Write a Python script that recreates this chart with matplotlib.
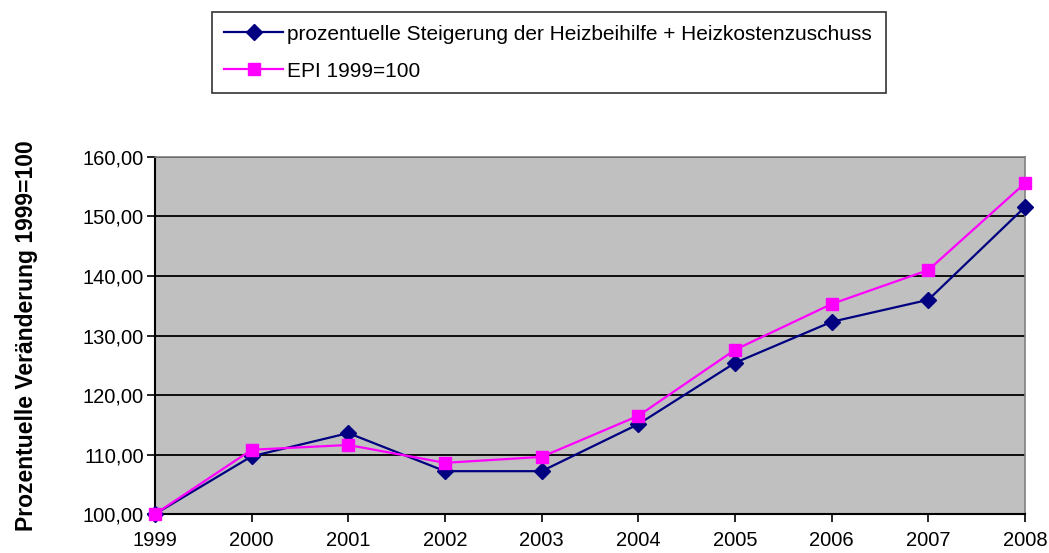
import matplotlib
matplotlib.use("Agg")
import matplotlib.pyplot as plt
import numpy as np

plt.rcParams['font.family'] = ['Liberation Sans', 'DejaVu Sans']

years = ['1999', '2000', '2001', '2002', '2003', '2004', '2005', '2006', '2007', '2008']
heizbeihilfe = [100.0, 109.7, 113.6, 107.2, 107.2, 115.1, 125.4, 132.3, 136.0, 151.6]
epi = [100.0, 110.8, 111.6, 108.6, 109.6, 116.5, 127.6, 135.3, 141.0, 155.6]
y_ticks = [100, 110, 120, 130, 140, 150, 160]

fig = plt.figure(figsize=(10.49, 5.53), dpi=100)
ax = fig.add_axes([0.1478, 0.0705, 0.9771 - 0.1478, 0.7161 - 0.0705])
ax.set_facecolor('#c0c0c0')

x = np.arange(len(years))
l1, = ax.plot(x, heizbeihilfe, color='#000080', lw=1.6, marker='D', ms=8,
              label='prozentuelle Steigerung der Heizbeihilfe + Heizkostenzuschuss', zorder=3)
l2, = ax.plot(x, epi, color='#ff00ff', lw=1.6, marker='s', ms=8,
              label='EPI 1999=100', zorder=4)

ax.set_xlim(0, len(years) - 1)
ax.set_ylim(100, 160)
ax.set_xticks(x)
ax.set_xticklabels(years)
ax.set_yticks(y_ticks)
ax.set_yticklabels(['%d,00' % v for v in y_ticks])
ax.tick_params(labelsize=14.5, direction='out', length=6, width=1.2, colors='black')
ax.tick_params(axis='x', pad=6)
ax.tick_params(axis='y', pad=2)
ax.grid(axis='y', color='black', lw=1.3)
ax.set_axisbelow(True)

for s in ['left', 'bottom']:
    ax.spines[s].set_color('black')
    ax.spines[s].set_linewidth(1.5)
for s in ['top', 'right']:
    ax.spines[s].set_color('#808080')
    ax.spines[s].set_linewidth(1.2)
for m in [l1, l2]:
    m.set_clip_on(False)

ax.set_ylabel('Prozentuelle Veränderung 1999=100', fontsize=16.5, fontweight='bold', labelpad=32)

leg = fig.legend(handles=[l1, l2], loc='upper left', bbox_to_anchor=(0.202, 0.823, 0.8446 - 0.202, 0.155),
                 mode='expand', fontsize=15.0, frameon=True, fancybox=False, edgecolor='black',
                 handlelength=2.8, handletextpad=0.2, labelspacing=0.87, borderpad=0.6,
                 borderaxespad=0, markerscale=1.0)
leg.get_frame().set_linewidth(1.2)

fig.savefig('out.png', dpi=100)
